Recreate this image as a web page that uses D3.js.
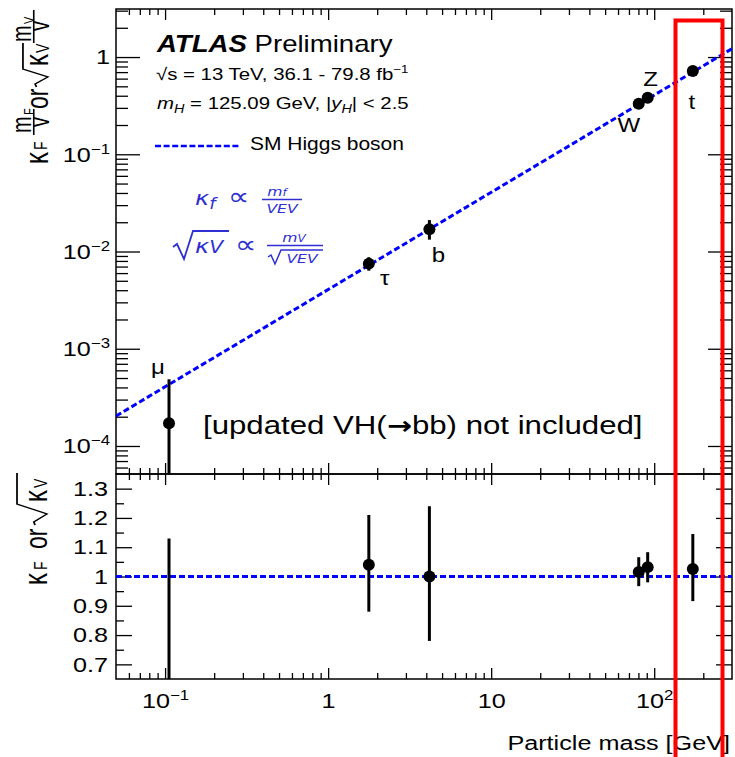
<!DOCTYPE html>
<html>
<head>
<meta charset="utf-8">
<script src="https://cdn.jsdelivr.net/npm/d3@7"></script>
<style>
  body { margin: 0; background: #fff; }
  svg { font-family: "Liberation Sans", Arial, Helvetica, sans-serif; }
</style>
</head>
<body>
<div id="chart"></div>
<script>
// ---- data ----
const particles = ['μ', 'τ', 'b', 'W', 'Z', 't'];
const masses    = [0.1057, 1.777, 4.18, 80.38, 91.19, 172.5];   // GeV
const kappa     = [0.40, 1.04, 1.00, 1.015, 1.032, 1.026];       // kappa_F or sqrt(kappa_V)
const kappaHi   = [1.13, 1.21, 1.24, 1.066, 1.083, 1.145];
const kappaLo   = [0.0, 0.88, 0.78, 0.967, 0.98, 0.916];
const vev = 246.22;
const xDecades = [0.1, 1, 10, 100];
const yDecades = [1e-4, 1e-3, 1e-2, 1e-1, 1];
const ratioTicks = [0.7, 0.8, 0.9, 1, 1.1, 1.2, 1.3];
const ratioMinor = [0.75, 0.85, 0.95, 1.05, 1.15, 1.25];

// label offsets from each marker, px
const labelPos = [[-11, -49], [16, 21], [9, 33], [-10, 28], [3, -12], [-1, 38]];

const W = 735, H = 757;
const fr = {left: 116, right: 732, top: 9, mid: 474, bottom: 679};
const sx = 1.2;    // glyphs in the original are stretched sideways
const sr = 1.35;   // rotated titles are stretched even more
const blue = '#0000ff', formula = '#2f2fd4';

const svg = d3.select('#chart').append('svg')
  .attr('width', W).attr('height', H);

const x = d3.scaleLog().domain([0.05, 300]).range([fr.left, fr.right]);
const yTop = d3.scaleLog().domain([5.15e-5, 3.12]).range([fr.mid, fr.top]);
const yRat = d3.scaleLinear().domain([0.65, 1.35]).range([fr.bottom, fr.mid]);

function logMinors(lo, hi) {
  let out = [];
  for (let e = Math.floor(Math.log10(lo)); e <= Math.ceil(Math.log10(hi)); e++)
    for (let k = 2; k <= 9; k++) {
      const v = k * Math.pow(10, e);
      if (v > lo && v < hi) out.push(v);
    }
  return out;
}
const xMinor = logMinors(0.05, 300);
const yMinor = logMinors(5.15e-5, 3.12);

// stretched text helper
function label(g, x0, y0, size, anchor) {
  return g.append('text')
    .attr('transform', `translate(${x0},${y0}) scale(${sx},1)`)
    .attr('font-size', size)
    .attr('text-anchor', anchor || 'start');
}
function rich(t, parts) {
  let shift = 0;
  parts.forEach(([s, o = {}]) => {
    const sp = t.append('tspan').text(s);
    const want = o.dy || 0;
    if (want - shift) sp.attr('dy', want - shift);
    shift = want;
    if (o.size) sp.attr('font-size', o.size);
    if (o.italic) sp.attr('font-style', 'italic');
    if (o.bold) sp.attr('font-weight', 'bold');
    if (o.family) sp.attr('font-family', o.family);
  });
  return t;
}
function powerLabel(t, d) {
  const e = Math.round(Math.log10(d));
  t.text('');
  if (e === 0) t.text('1');
  else if (e === 1) t.text('10');
  else rich(t, [['10'], [String(e).replace('-', '\u2212'), {size: 14, dy: -8}]]);
}
function styleAxis(g) {
  g.select('.domain').remove();
  g.selectAll('line').attr('stroke', '#000').attr('stroke-width', 1.3);
  g.selectAll('text').attr('fill', '#000').attr('font-size', 21)
    .attr('font-family', '"Liberation Sans", Arial, sans-serif')
    .each(function () {
      const t = d3.select(this);
      const tx = +t.attr('x') || 0, ty = +t.attr('y') || 0;
      t.attr('x', 0).attr('y', 0).attr('transform', `translate(${tx},${ty}) scale(${sx},1)`);
    });
}
function axisAt(ax, tx, ty) {
  const g = svg.append('g').attr('transform', `translate(${tx},${ty})`).call(ax);
  styleAxis(g);
  return g;
}

// ---- ticks, top panel ----
let g;
g = axisAt(d3.axisLeft(yTop).tickValues(yDecades).tickSize(-24).tickPadding(6), fr.left, 0);
g.selectAll('text').each(function (d) { powerLabel(d3.select(this), d); });
axisAt(d3.axisLeft(yTop).tickValues(yMinor).tickSize(-12).tickFormat(''), fr.left, 0);
axisAt(d3.axisRight(yTop).tickValues(yDecades).tickSize(-24).tickFormat(''), fr.right, 0);
axisAt(d3.axisRight(yTop).tickValues(yMinor).tickSize(-12).tickFormat(''), fr.right, 0);
axisAt(d3.axisTop(x).tickValues(xDecades).tickSize(-11).tickFormat(''), 0, fr.top);
axisAt(d3.axisTop(x).tickValues(xMinor).tickSize(-6).tickFormat(''), 0, fr.top);
axisAt(d3.axisBottom(x).tickValues(xDecades).tickSize(-11).tickFormat(''), 0, fr.mid);
axisAt(d3.axisBottom(x).tickValues(xMinor).tickSize(-6).tickFormat(''), 0, fr.mid);

// ---- ticks, ratio panel ----
axisAt(d3.axisLeft(yRat).tickValues(ratioTicks).tickSize(-16).tickPadding(8).tickFormat(d3.format('~g')), fr.left, 0);
axisAt(d3.axisLeft(yRat).tickValues(ratioMinor).tickSize(-8).tickFormat(''), fr.left, 0);
axisAt(d3.axisRight(yRat).tickValues(ratioTicks).tickSize(-16).tickFormat(''), fr.right, 0);
axisAt(d3.axisRight(yRat).tickValues(ratioMinor).tickSize(-8).tickFormat(''), fr.right, 0);
axisAt(d3.axisTop(x).tickValues(xDecades).tickSize(-11).tickFormat(''), 0, fr.mid);
axisAt(d3.axisTop(x).tickValues(xMinor).tickSize(-6).tickFormat(''), 0, fr.mid);
g = axisAt(d3.axisBottom(x).tickValues(xDecades).tickSize(-11).tickPadding(14), 0, fr.bottom);
g.selectAll('text').each(function (d) { powerLabel(d3.select(this), d); });
axisAt(d3.axisBottom(x).tickValues(xMinor).tickSize(-6).tickFormat(''), 0, fr.bottom);

// frames
[[fr.top, fr.mid], [fr.mid, fr.bottom]].forEach(([y0, y1]) => {
  svg.append('rect').attr('x', fr.left).attr('y', y0)
    .attr('width', fr.right - fr.left).attr('height', y1 - y0)
    .attr('fill', 'none').attr('stroke', '#000').attr('stroke-width', 1.5);
});

// clip paths
const defs = svg.append('defs');
defs.append('clipPath').attr('id', 'clipTop').append('rect')
  .attr('x', fr.left).attr('y', fr.top).attr('width', fr.right - fr.left).attr('height', fr.mid - fr.top);
defs.append('clipPath').attr('id', 'clipRat').append('rect')
  .attr('x', fr.left).attr('y', fr.mid).attr('width', fr.right - fr.left).attr('height', fr.bottom - fr.mid);

const rows = particles.map((p, i) => ({
  p, m: masses[i], k: kappa[i], hi: kappaHi[i], lo: kappaLo[i], off: labelPos[i]
}));

// ---- top panel ----
const pt = svg.append('g').attr('clip-path', 'url(#clipTop)');
const floorY = yTop.domain()[0] * 0.5;
pt.append('path')
  .datum(x.domain())
  .attr('d', d3.line().x(d => x(d)).y(d => yTop(d / vev)))
  .attr('fill', 'none').attr('stroke', blue).attr('stroke-width', 3)
  .attr('stroke-dasharray', '6,3');
pt.selectAll('.err').data(rows).enter().append('line')
  .attr('x1', d => x(d.m)).attr('x2', d => x(d.m))
  .attr('y1', d => yTop(Math.max(d.lo * d.m / vev, floorY)))
  .attr('y2', d => yTop(d.hi * d.m / vev))
  .attr('stroke', '#000').attr('stroke-width', 3);
pt.selectAll('.pt').data(rows).enter().append('circle')
  .attr('cx', d => x(d.m)).attr('cy', d => yTop(d.k * d.m / vev))
  .attr('r', 6).attr('fill', '#000');

rows.forEach(d => {
  label(svg, x(d.m) + d.off[0], yTop(d.k * d.m / vev) + d.off[1], 20, 'middle').text(d.p);
});

// ---- ratio panel ----
const pr = svg.append('g').attr('clip-path', 'url(#clipRat)');
pr.append('line')
  .attr('x1', fr.left).attr('x2', fr.right)
  .attr('y1', yRat(1)).attr('y2', yRat(1))
  .attr('stroke', blue).attr('stroke-width', 3).attr('stroke-dasharray', '6,3');
pr.selectAll('.err').data(rows).enter().append('line')
  .attr('x1', d => x(d.m)).attr('x2', d => x(d.m))
  .attr('y1', d => yRat(d.lo)).attr('y2', d => yRat(d.hi))
  .attr('stroke', '#000').attr('stroke-width', 3);
pr.selectAll('.pt').data(rows).enter().append('circle')
  .attr('cx', d => x(d.m)).attr('cy', d => yRat(d.k))
  .attr('r', 6).attr('fill', '#000');

// ---- header text ----
rich(label(svg, 157, 52, 23), [['ATLAS', {bold: true, italic: true}], [' Preliminary']]);
rich(label(svg, 156, 80, 17), [['\u221As = 13 TeV, 36.1 - 79.8 fb'], ['\u22121', {size: 11, dy: -7}]]);
rich(label(svg, 157, 109, 17), [
  ['m', {italic: true}], ['H', {italic: true, size: 12, dy: 4}],
  [' = 125.09 GeV, |'], ['y', {italic: true}], ['H', {italic: true, size: 12, dy: 4}], ['| < 2.5']
]);
svg.append('line').attr('x1', 155).attr('x2', 241).attr('y1', 146).attr('y2', 146)
  .attr('stroke', blue).attr('stroke-width', 2.5).attr('stroke-dasharray', '6,2.6');
label(svg, 250, 150, 17.5).text('SM Higgs boson');

rich(label(svg, 203, 434, 26), [
  ['[updated VH('],
  ['\u2192', {family: '"DejaVu Sans", sans-serif', bold: true, size: 25}],
  ['bb) not included]']
]);

label(svg, 730, 750, 21, 'end').text('Particle mass [GeV]');

// ---- blue formulas ----
const fg = svg.append('g').attr('fill', formula)
  .attr('font-family', '"DejaVu Sans", sans-serif').attr('font-style', 'italic');
rich(label(fg, 195, 205, 20), [['\u03BA'], ['f', {size: 15, dy: 4}]]);
label(fg, 228, 205, 25).attr('font-style', 'normal').text('\u221D');
rich(label(fg, 277, 195.5, 13, 'middle'), [['m'], ['f', {size: 10}]]);
fg.append('line').attr('x1', 262).attr('x2', 302).attr('y1', 199.5).attr('y2', 199.5)
  .attr('stroke', formula).attr('stroke-width', 1.5);
label(fg, 282, 213, 13, 'middle').text('VEV');

fg.append('path').attr('d', 'M173,247 L177,244 L184,259 L193,231 L229,231')
  .attr('fill', 'none').attr('stroke', formula).attr('stroke-width', 1.8);
rich(label(fg, 195, 253, 20), [['\u03BA'], ['V', {size: 17}]]);
label(fg, 235, 253, 25).attr('font-style', 'normal').text('\u221D');
rich(label(fg, 294, 242, 13, 'middle'), [['m'], ['V', {size: 10}]]);
fg.append('line').attr('x1', 267).attr('x2', 323).attr('y1', 245.5).attr('y2', 245.5)
  .attr('stroke', formula).attr('stroke-width', 1.5);
fg.append('path').attr('d', 'M268,257 L271,255 L275,264 L281,250 L323,250')
  .attr('fill', 'none').attr('stroke', formula).attr('stroke-width', 1.5);
label(fg, 302, 263, 13, 'middle').text('VEV');

// ---- y titles (rotated, stretched across) ----
function rot(y0) {
  return svg.append('g').attr('transform', `translate(0,${y0}) scale(${sr},1) rotate(-90)`)
    .attr('font-size', 24);
}
const ty = rot(170);
ty.append('text').attr('x', 6).attr('y', 35.5).text('\u03BA');
ty.append('text').attr('x', 20).attr('y', 35).attr('font-size', 14).text('F');
ty.append('text').attr('x', 37).attr('y', 23).attr('font-size', 20).text('m');
ty.append('text').attr('x', 55).attr('y', 25).attr('font-size', 11).text('F');
ty.append('line').attr('x1', 35).attr('x2', 61).attr('y1', 25).attr('y2', 25)
  .attr('stroke', '#000').attr('stroke-width', 1.2);
ty.append('text').attr('x', 48).attr('y', 36).attr('font-size', 20).attr('text-anchor', 'middle').text('v');
ty.append('text').attr('x', 61).attr('y', 35.5).attr('font-size', 23).text('or');
ty.append('path').attr('d', 'M83,27 L86,26 L93,35.5 L101,17 L127,17')
  .attr('fill', 'none').attr('stroke', '#000').attr('stroke-width', 1.3);
ty.append('text').attr('x', 104).attr('y', 35.5).text('\u03BA');
ty.append('text').attr('x', 117).attr('y', 36).attr('font-size', 14).text('V');
ty.append('text').attr('x', 128).attr('y', 23).attr('font-size', 20).text('m');
ty.append('text').attr('x', 146).attr('y', 25).attr('font-size', 11).text('V');
ty.append('line').attr('x1', 127).attr('x2', 160).attr('y1', 25).attr('y2', 25)
  .attr('stroke', '#000').attr('stroke-width', 1.2);
ty.append('text').attr('x', 144).attr('y', 36).attr('font-size', 20).attr('text-anchor', 'middle').text('v');

const tr = rot(590);
tr.append('text').attr('x', 5).attr('y', 34.8).text('\u03BA');
tr.append('text').attr('x', 20).attr('y', 35).attr('font-size', 14).text('F');
tr.append('text').attr('x', 41).attr('y', 34.8).attr('font-size', 23).text('or');
tr.append('path').attr('d', 'M65,26 L68,25 L76,34.8 L86,12.6 L117,12.6')
  .attr('fill', 'none').attr('stroke', '#000').attr('stroke-width', 1.3);
tr.append('text').attr('x', 88).attr('y', 34.8).text('\u03BA');
tr.append('text').attr('x', 102).attr('y', 35).attr('font-size', 14).text('V');

// ---- red highlight box ----
svg.append('rect').attr('x', 675.5).attr('y', 20.5).attr('width', 47).attr('height', 800)
  .attr('fill', 'none').attr('stroke', '#ff0000').attr('stroke-width', 4);
</script>
</body>
</html>
